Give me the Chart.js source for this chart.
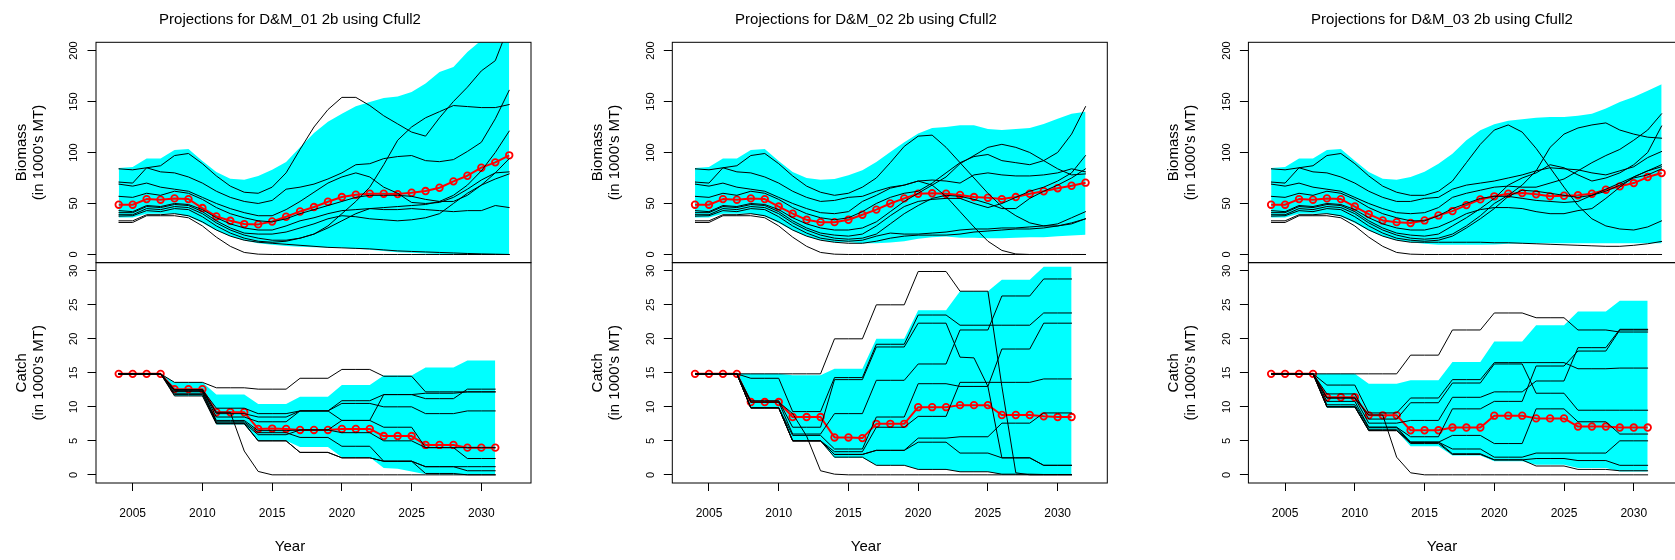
<!DOCTYPE html>
<html>
<head>
<meta charset="utf-8">
<script src="https://cdn.jsdelivr.net/npm/chart.js@4.4.1/dist/chart.umd.min.js"></script>
<style>
  html, body { margin: 0; padding: 0; background: #ffffff; width: 1675px; height: 560px; overflow: hidden; }
  .panel { position: absolute; top: 0; width: 580px; height: 560px; }
  .panel canvas { display: block; }
</style>
</head>
<body>
<div class="panel" style="left:0px"><canvas id="p1" width="580" height="560"></canvas></div>
<div class="panel" style="left:576px"><canvas id="p2" width="580" height="560"></canvas></div>
<div class="panel" style="left:1152px"><canvas id="p3" width="580" height="560"></canvas></div>
<script>
// ---------- axes ----------
const bioYears = [2004,2005,2006,2007,2008,2009,2010,2011,2012,2013,2014,2015,2016,2017,2018,2019,2020,2021,2022,2023,2024,2025,2026,2027,2028,2029,2030,2031,2032];
const catchYears = [2004,2005,2006,2007,2008,2009,2010,2011,2012,2013,2014,2015,2016,2017,2018,2019,2020,2021,2022,2023,2024,2025,2026,2027,2028,2029,2030,2031];
const yearTicks = [2005,2010,2015,2020,2025,2030];
const bioTicks = [0,50,100,150,200];
const catchTicks = [0,5,10,15,20,25,30];
const panelNames = ['D&M_01','D&M_02','D&M_03'];

// ---------- D&M_01 : biomass ----------
const bio1Med = [48.8,48.8,54.3,53.7,55.0,54.3,45.5,37.3,33.0,29.8,29.5,32.4,37.0,42.2,46.5,51.7,56.3,58.6,59.6,59.6,59.2,60.5,62.2,65.4,71.7,77.2,85.1,90.3,97.2];
const bio1Hi = [84.8,85.7,94.0,94.0,102.4,103.4,91.6,80.8,74.3,73.3,76.9,83.1,90.6,105.0,119.0,130.0,138.0,145.3,149.5,153.5,154.8,159.4,167.5,179.0,183.9,198.6,210.0,225.0,240.0];
const bio1Lo = [36.3,36.3,40.0,40.0,40.0,37.3,30.8,23.6,18.0,13.7,11.1,9.5,8.2,7.5,7.2,6.9,6.5,5.6,4.6,3.3,2.3,1.6,1.0,0.6,0.6,0.6,0.6,0.6,0.6];
const bio1Runs = [
  [84,83,85,81,80,76,70,62,56,52,50,53,64,66,69,74,80,88,89,94,96,97,92,91,93,101,110,133,161],
  [71,70,85,87,97,99,89,77,67,61,60,66,80,103,125,142,154,154,146,136,128,120,116,134,150,164,180,190,225],
  [69,67,70,66,64,62,56,50,45,41,38,38,44,52,61,70,76,80,76,66,60,51,50,51,56,64,73,80,81],
  [57,56,60,58,62,60,54,46,40,36,33,32,35,40,44,48,52,56,58,58,58,57,54,52,52,58,68,80,94],
  [43,42,48,47,50,49,44,36,30,26,24,24,28,33,36,40,43,44,45,44,44,45,44,43,42,43,43,48,46],
  [41,41,47,46,49,48,42,33,26,21,20,20,22,26,30,35,38,37,35,34,33,34,36,40,50,60,68,74,79],
  [39,39,45,44,47,46,40,31,24,19,16,14,14,16,20,26,33,40,45,46,47,48,49,52,58,68,82,100,121],
  [37.6,38,43,42,45,44,37,28,21,16,13,12,13,16,20,28,40,52,66,88,112,125,134,140,146,145,144,144,147],
  [33,33,39,39,40,38,32,24,18,14,12,11,10,9,8,7,6.5,6,5.5,4.5,3.5,3,2.5,2,1.5,1,0.6,0.3,0],
  [31.4,31.4,38,38,38,36,28,17,8,2,0.3,0,0,0,0,0,0,0,0,0,0,0,0,0,0,0,0,0,0]
];
// ---------- D&M_01 : catch ----------
const catch1Med = [14.85,14.85,14.85,14.85,12.6,12.6,12.6,9.2,9.2,9.2,6.75,6.8,6.75,6.6,6.6,6.6,6.75,6.75,6.75,5.7,5.7,5.7,4.4,4.4,4.4,4.0,4.0,4.0];
const catch1Hi = [14.85,14.85,14.85,14.85,13.6,13.6,13.6,11.8,11.8,11.8,10.4,10.4,10.4,11.5,11.5,11.5,13.2,13.2,13.2,14.6,14.6,14.6,15.8,15.8,15.8,16.8,16.8,16.8];
const catch1Lo = [14.85,14.85,14.85,14.85,11.6,11.6,11.6,7.4,7.4,7.4,5.0,5.0,5.0,4.1,4.1,4.1,2.6,2.6,2.6,1.0,0.9,0.5,0.1,0.05,0.05,0,0,0];
const catch1Runs = [
  [14.85,14.85,14.85,14.85,13.6,13.6,13.6,12.8,12.8,12.8,12.6,12.6,12.6,14.2,14.2,14.2,15.5,15.5,15.5,14.5,14.5,14.5,12.2,12.2,12.2,12.2,12.2,12.2],
  [14.85,14.85,14.85,14.85,12.5,12.5,12.5,9.2,9.2,3.5,0.5,0,0,0,0,0,0,0,0,0,0,0,0,0,0,0,0,0],
  [14.85,14.85,14.85,14.85,12.5,12.5,12.5,9.8,9.8,9.8,9.0,9.0,9.0,9.4,9.4,9.4,10.9,10.9,10.9,11.8,11.8,11.8,11.2,11.2,11.2,12.6,12.6,12.6],
  [14.85,14.85,14.85,14.85,12.5,12.5,12.5,9.0,9.0,9.0,8.5,8.5,8.5,9.4,9.4,9.4,10.5,10.5,10.5,10.0,10.0,10.0,9.0,9.0,9.0,9.4,9.4,9.4],
  [14.85,14.85,14.85,14.85,12.5,12.5,12.5,8.5,8.5,8.5,7.8,7.8,7.8,9.4,9.4,9.4,8.0,8.0,8.0,7.0,7.0,7.0,4.0,4.0,4.0,4.0,4.0,4.0],
  [14.85,14.85,14.85,14.85,12.3,12.3,12.3,8.0,8.0,8.0,6.5,6.5,6.5,6.6,6.6,6.6,6.2,6.2,6.2,5.0,5.0,5.0,4.0,4.0,4.0,2.4,2.4,2.4],
  [14.85,14.85,14.85,14.85,12.3,12.3,12.3,7.8,7.8,7.8,6.2,6.2,6.2,5.5,5.5,5.5,4.2,4.2,4.2,2.0,2.0,2.0,1.2,1.2,1.2,1.2,1.2,1.2],
  [14.85,14.85,14.85,14.85,12.0,12.0,12.0,7.6,7.6,7.6,5.9,5.9,5.9,6.6,6.6,6.6,8.0,8.0,8.0,11.8,11.8,11.8,12.0,12.0,12.0,12.2,12.2,12.2],
  [14.85,14.85,14.85,14.85,11.8,11.8,11.8,7.6,7.6,7.6,5.0,5.0,5.0,3.3,3.3,3.3,2.5,2.5,2.5,2.0,2.0,2.0,1.2,1.2,1.2,0.6,0.6,0.6],
  [14.85,14.85,14.85,14.85,11.6,11.6,11.6,7.5,7.5,7.5,5.0,5.0,5.0,3.3,3.3,3.3,2.5,2.5,2.5,2.0,2.0,2.0,0.2,0.2,0.2,0,0,0]
];

// ---------- D&M_02 : biomass ----------
const bio2Med = [48.8,48.8,54.3,53.7,55.0,54.3,47.0,40.0,34.0,31.7,31.7,34.0,39.0,44.0,50.0,55.0,59.6,60.0,59.6,58.4,56.3,55.6,54.3,56.3,59.6,62.0,65.0,67.4,70.4];
const bio2Hi = [84.8,85.7,94.0,94.0,102.4,103.4,91.6,80.8,75.0,73.3,74.0,77.6,82.5,90.6,100.5,110.0,118.5,124.0,125.0,126.6,126.6,123.0,122.0,123.0,124.0,128.0,133.0,138.0,140.0];
const bio2Lo = [36.3,36.3,40.0,40.0,40.0,37.3,30.8,23.6,18.0,14.0,12.0,12.0,11.0,11.0,11.8,13.0,15.4,17.0,17.7,16.4,16.4,16.0,16.0,16.4,17.0,17.0,18.0,18.7,19.3];
const bio2Runs = [
  [84,83,85,81,80,76,70,62,56,52,53,56,57,62,66,68,72,68,57,42,27,13,4,0.5,0,0,0,0,0],
  [71,70,85,87,97,99,89,77,67,61,58,60,66,75,90,106,116,117,105,90,75,60,47,38,31,28,28,30,35],
  [69,67,70,66,64,62,56,50,45,41,40,42,52,58,65,68,72,73,72,70,78,80,78,77,77,78,80,84,81],
  [57,56,60,58,62,60,54,46,40,36,34,36,42,50,56,60,62,70,80,90,96,98,92,90,88,92,100,118,145],
  [43,42,48,47,50,49,44,36,30,26,24,24,26,32,42,52,60,68,76,89,97,105,108,105,100,92,84,78,79],
  [41,41,47,46,49,48,42,33,26,21,19,18,20,28,38,47,52,54,55,55,50,46,50,56,62,66,72,80,97],
  [39,39,45,44,47,46,40,31,24,19,16,15,16,20,30,40,48,55,58,57,54,50,45,45,55,62,68,75,84],
  [37.6,38,43,42,45,44,37,28,21,16,14,13,14,18,21,20,20,21,22,24,25,25,26,26,27,28,30,36,42],
  [33,33,39,39,40,38,32,24,18,14,12,11,11,13,16,18,19,19,19,20,22,23,24,25,25,26,28,31,35],
  [31.4,31.4,38,38,38,36,28,17,8,2,0.3,0,0,0,0,0,0,0,0,0,0,0,0,0,0,0,0,0,0]
];
// ---------- D&M_02 : catch ----------
const catch2Med = [14.85,14.85,14.85,14.85,10.7,10.7,10.7,8.5,8.5,8.5,5.5,5.5,5.4,7.5,7.5,7.5,9.95,9.95,9.95,10.25,10.25,10.25,8.8,8.8,8.8,8.6,8.5,8.5];
const catch2Hi = [14.85,14.85,14.85,14.85,14.85,14.85,14.85,14.65,14.65,14.65,15.6,15.6,15.6,20.0,20.0,20.0,24.2,24.2,24.2,27.0,27.0,27.0,28.7,28.7,28.7,30.6,30.6,30.6];
const catch2Lo = [14.85,14.85,14.85,14.85,9.85,9.85,9.85,5.0,5.0,5.0,2.5,2.5,2.5,1.4,1.4,1.4,0.8,0.8,0.8,0.45,0.45,0.45,0.05,0.05,0.05,0.05,0.05,0.05];
const catch2Runs = [
  [14.85,14.85,14.85,14.85,14.85,14.85,14.85,14.85,14.85,14.85,20.0,20.0,20.0,25.0,25.0,25.0,29.9,29.9,29.9,27.0,27.0,27.0,13.0,0.3,0,0,0,0],
  [14.85,14.85,14.85,14.85,10.7,10.7,10.7,9.0,5.7,0.6,0.1,0,0,0,0,0,0,0,0,0,0,0,0,0,0,0,0,0],
  [14.85,14.85,14.85,14.85,14.2,14.2,14.2,9.3,9.3,9.3,14.3,14.3,14.3,19.2,19.2,19.2,23.5,23.5,23.5,22.0,22.0,22.0,22.0,22.0,22.0,23.8,23.8,23.8],
  [14.85,14.85,14.85,14.85,10.9,10.9,10.9,7.0,7.0,7.0,14.0,14.0,14.0,18.8,18.8,18.8,22.3,22.3,22.3,17.3,17.2,13.0,2.5,2.5,2.5,1.4,1.4,1.4],
  [14.85,14.85,14.85,14.85,10.7,10.7,10.7,6.0,6.0,6.0,9.0,9.0,9.0,13.9,13.9,13.9,16.3,16.3,16.3,21.3,21.3,21.3,26.3,26.3,26.3,28.8,28.8,28.8],
  [14.85,14.85,14.85,14.85,9.85,9.85,9.85,5.8,5.8,5.8,3.8,3.8,3.8,8.5,8.5,8.5,13.4,13.4,13.4,13.0,13.0,13.0,18.5,18.5,18.5,22.3,22.3,22.3],
  [14.85,14.85,14.85,14.85,9.85,9.85,9.85,5.0,5.0,5.0,3.4,3.4,3.4,7.0,7.0,7.0,8.6,8.6,8.6,13.6,13.6,13.6,13.6,13.6,13.6,14.1,14.1,14.1],
  [14.85,14.85,14.85,14.85,9.85,9.85,9.85,5.0,5.0,5.0,3.0,3.0,3.0,3.6,3.6,3.6,5.4,5.4,5.4,5.6,5.6,5.6,7.6,7.6,7.6,9.1,9.1,9.1],
  [14.85,14.85,14.85,14.85,9.85,9.85,9.85,5.0,5.0,5.0,2.6,2.6,2.6,1.4,1.4,1.4,0.8,0.8,0.8,0.45,0.45,0.45,0.1,0.1,0.1,0.05,0.05,0.05],
  [14.85,14.85,14.85,14.85,9.85,9.85,9.85,5.0,5.0,5.0,3.0,3.0,3.0,3.6,3.6,3.6,4.8,4.8,4.8,3.2,3.2,3.2,2.5,2.5,2.5,1.4,1.4,1.4]
];

// ---------- D&M_03 : biomass ----------
const bio3Med = [48.8,48.8,54.3,53.7,55.0,54.3,47.0,39.6,33.4,31.7,30.8,33.4,38.3,42.5,48.4,54.0,57.0,59.6,60.2,59.0,57.0,57.6,58.0,59.6,63.5,66.8,70.0,75.9,79.8];
const bio3Hi = [84.8,85.7,94.0,94.0,102.4,103.4,92.0,80.8,74.3,73.3,76.0,81.0,89.0,98.8,112.0,121.7,127.6,131.0,132.5,134.0,134.8,134.8,136.0,138.0,143.0,149.5,154.5,160.5,167.0];
const bio3Lo = [36.3,36.3,40.0,40.0,40.0,37.3,30.8,23.6,18.0,14.0,12.0,10.5,9.5,9.5,9.5,9.5,9.8,10.5,11.0,11.0,11.0,11.0,11.0,11.0,11.0,11.0,11.0,11.0,11.0];
const bio3Runs = [
  [84,83,85,81,80,76,70,62,56,52,52,55,56,64,68,70,72,75,78,82,85,84,83,80,78,82,86,95,101],
  [71,70,85,87,97,99,89,77,67,61,58,58,62,72,90,108,122,127,120,104,85,66,48,35,28,25,24,27,33],
  [69,67,70,66,64,62,56,50,45,41,40,41,46,56,60,63,66,67,66,66,70,74,82,90,97,103,112,122,138],
  [57,56,60,58,62,60,54,46,40,36,33,33,38,45,50,55,57,57,55,53,52,51,52,58,64,70,76,82,88],
  [43,42,48,47,50,49,44,36,30,26,24,24,27,33,40,44,46,46,45,42,40,40,43,45,55,66,76,82,86],
  [41,41,47,46,49,48,42,33,26,21,19,18,20,28,36,45,55,68,75,80,88,85,78,72,75,80,88,100,126],
  [39,39,45,44,47,46,40,31,24,19,16,15,16,20,28,38,50,58,68,82,105,118,124,127,129,122,118,115,114],
  [37.6,38,43,42,45,44,37,28,21,16,14,13,14,18,26,35,45,57,63,62,60,58,56,58,62,68,75,78,84],
  [33,33,39,39,40,38,32,24,18,14,12,12,12,12,12,12,11.5,11.5,11,10.5,10,9.5,9,8.5,8,8,9,10.5,12.8],
  [31.4,31.4,38,38,38,36,28,17,8,2,0.3,0,0,0,0,0,0,0,0,0,0,0,0,0,0,0,0,0,0]
];
// ---------- D&M_03 : catch ----------
const catch3Med = [14.85,14.85,14.85,14.85,11.4,11.4,11.4,8.75,8.75,8.75,6.55,6.55,6.55,6.95,6.95,6.95,8.7,8.7,8.7,8.3,8.3,8.3,7.1,7.1,7.1,6.95,6.95,6.95];
const catch3Hi = [14.85,14.85,14.85,14.85,14.85,14.85,14.85,13.4,13.4,13.4,13.9,13.9,13.9,16.6,16.6,16.6,19.6,19.6,19.6,22.0,22.0,22.0,24.0,24.0,24.0,25.6,25.6,25.6];
const catch3Lo = [14.85,14.85,14.85,14.85,9.85,9.85,9.85,6.5,6.5,6.5,4.2,4.2,4.2,2.85,2.85,2.85,2.0,2.0,2.0,1.5,1.5,1.5,1.0,1.0,1.0,0.5,0.5,0.5];
const catch3Runs = [
  [14.85,14.85,14.85,14.85,14.85,14.85,14.85,14.85,14.85,14.85,17.6,17.6,17.6,21.3,21.3,21.3,23.8,23.8,23.8,23.1,23.1,23.1,21.3,21.3,21.3,21.0,21.0,21.0],
  [14.85,14.85,14.85,14.85,11.3,11.3,11.3,8.8,8.8,2.6,0.3,0,0,0,0,0,0,0,0,0,0,0,0,0,0,0,0,0],
  [14.85,14.85,14.85,14.85,13.2,13.2,13.2,9.1,9.1,9.1,11.3,11.3,11.3,14.0,14.0,14.0,16.5,16.5,16.5,16.5,16.5,16.5,15.6,15.6,15.6,15.7,15.7,15.7],
  [14.85,14.85,14.85,14.85,11.9,11.9,11.9,8.2,8.2,8.2,10.6,10.6,10.6,13.5,13.5,13.5,16.3,16.3,16.3,12.0,12.0,12.0,9.5,9.5,9.5,9.5,9.5,9.5],
  [14.85,14.85,14.85,14.85,11.3,11.3,11.3,7.6,7.6,7.6,8.0,8.0,8.0,11.4,11.4,11.4,12.2,12.2,12.2,13.8,13.8,13.8,18.7,18.7,18.7,21.4,21.4,21.4],
  [14.85,14.85,14.85,14.85,10.8,10.8,10.8,7.0,7.0,7.0,5.6,5.6,5.6,9.7,9.7,9.7,10.8,10.8,10.8,16.0,16.0,16.0,18.2,18.2,18.2,21.3,21.3,21.3],
  [14.85,14.85,14.85,14.85,10.3,10.3,10.3,7.0,7.0,7.0,4.8,4.8,4.8,5.8,5.8,5.8,4.6,4.6,4.6,9.7,9.7,9.7,7.8,7.8,7.8,6.0,6.0,6.0],
  [14.85,14.85,14.85,14.85,10.0,10.0,10.0,6.7,6.7,6.7,4.8,4.8,4.8,3.8,3.8,3.8,2.6,2.6,2.6,3.2,3.2,3.2,3.2,3.2,3.2,5.0,5.0,5.0],
  [14.85,14.85,14.85,14.85,10.0,10.0,10.0,6.5,6.5,6.5,4.8,4.8,4.8,3.1,3.1,3.1,2.2,2.2,2.2,2.4,2.4,2.4,2.1,2.1,2.1,1.4,1.4,1.4],
  [14.85,14.85,14.85,14.85,10.0,10.0,10.0,6.5,6.5,6.5,4.6,4.6,4.6,3.0,3.0,3.0,2.2,2.2,2.2,1.3,1.3,1.3,0.8,0.8,0.8,0.6,0.6,0.6]
];

// ---------- drawing ----------
const FONT = "'Liberation Sans', Arial, Helvetica, sans-serif";
Chart.defaults.font.family = FONT;
Chart.defaults.color = '#000';

const CYAN = '#00FFFF';
const RED = '#FF0000';
const INK = '#000000';
const NONE = 'rgba(0,0,0,0)';

function series(xs, ys) {
  return xs.map((x, i) => ({ x: x, y: ys[i] }));
}

// Box around each of the two stacked plot regions, and the upright y tick labels
const framePlugin = {
  id: 'frames',
  afterDraw(chart) {
    const ctx = chart.ctx;
    const ca = chart.chartArea;
    ctx.save();
    ctx.strokeStyle = INK;
    ctx.lineWidth = 1;
    ['yB', 'yC'].forEach(id => {
      const s = chart.scales[id];
      ctx.strokeRect(ca.left, s.top, ca.right - ca.left, s.bottom - s.top);
    });
    ctx.fillStyle = INK;
    ctx.font = '11px ' + FONT;
    ctx.textAlign = 'center';
    ctx.textBaseline = 'middle';
    ['yB', 'yC'].forEach(id => {
      const s = chart.scales[id];
      s.ticks.forEach(t => {
        ctx.save();
        ctx.translate(ca.left - 21.7, s.getPixelForValue(t.value));
        ctx.rotate(-Math.PI / 2);
        ctx.fillText(String(t.value), 0, 0);
        ctx.restore();
      });
    });
    ctx.restore();
  }
};

function yAxis(weight, min, max, ticks, titleLines, axisW) {
  return {
    type: 'linear', position: 'left', stack: 'rows', stackWeight: 1, weight: weight,
    min: min, max: max, bounds: 'data',
    afterBuildTicks: s => { s.ticks = ticks.map(v => ({ value: v })); },
    afterFit: s => { s.width = axisW; },
    ticks: { display: false },
    grid: { display: true, drawOnChartArea: false, drawTicks: true, tickLength: 8.5, color: INK, lineWidth: 1 },
    border: { display: false },
    title: { display: true, text: titleLines, color: INK, font: { size: 15, lineHeight: 17 / 15 }, padding: { top: 13.5, bottom: 0 } }
  };
}

function buildPanel(canvasId, name, axisW, bioMed, bioHi, bioLo, bioRuns, catMed, catHi, catLo, catRuns) {
  const datasets = [];
  const run = (data, axis) => ({
    data: data, yAxisID: axis, order: 0, borderColor: INK, borderWidth: 1,
    pointRadius: 0, fill: false, tension: 0, borderJoinStyle: 'round', borderCapStyle: 'round'
  });
  bioRuns.forEach(r => datasets.push(run(series(bioYears, r), 'yB')));
  catRuns.forEach(r => datasets.push(run(series(catchYears, r), 'yC')));

  const median = (data, axis) => ({
    data: data, yAxisID: axis, order: 1, borderColor: RED, borderWidth: 2,
    pointRadius: 3.3, pointBorderWidth: 1.8, pointBorderColor: RED, pointBackgroundColor: NONE,
    fill: false, tension: 0, borderJoinStyle: 'round'
  });
  datasets.push(median(series(bioYears, bioMed), 'yB'));
  datasets.push(median(series(catchYears, catMed), 'yC'));

  const band = (xs, hi, lo, axis) => {
    datasets.push({ data: series(xs, hi), yAxisID: axis, order: 2, borderColor: NONE, borderWidth: 0,
      pointRadius: 0, fill: '+1', backgroundColor: CYAN, tension: 0 });
    datasets.push({ data: series(xs, lo), yAxisID: axis, order: 2, borderColor: NONE, borderWidth: 0,
      pointRadius: 0, fill: false, tension: 0 });
  };
  band(bioYears, bioHi, bioLo, 'yB');
  band(catchYears, catHi, catLo, 'yC');

  const padW = 580 - axisW - 435;
  return new Chart(document.getElementById(canvasId), {
    type: 'line',
    data: { datasets: datasets },
    plugins: [framePlugin],
    options: {
      responsive: false, maintainAspectRatio: false, devicePixelRatio: 1,
      animation: false, events: [],
      layout: { padding: 0 },
      plugins: {
        legend: { display: false },
        tooltip: { enabled: false },
        title: { display: true, text: 'Projections for ' + name + ' 2b using Cfull2', color: INK,
          font: { size: 15, weight: 'normal' }, padding: { top: 10.5, bottom: 13.8 } },
        subtitle: { display: true, position: 'bottom', text: 'Year', color: INK,
          font: { size: 15, weight: 'normal' }, padding: { top: 0, bottom: 4.3 } }
      },
      scales: {
        x: {
          type: 'linear', position: 'bottom', min: 2002.37, max: 2033.56, bounds: 'data',
          afterBuildTicks: s => { s.ticks = yearTicks.map(v => ({ value: v })); },
          afterFit: s => { s.height = 54.7; },
          ticks: { padding: 15, color: INK, font: { size: 12 }, maxRotation: 0, autoSkip: false, callback: v => String(v) },
          grid: { display: true, drawOnChartArea: false, drawTicks: true, tickLength: 8, color: INK, lineWidth: 1 },
          border: { display: false }
        },
        yB: yAxis(1, -8, 208, bioTicks, ['Biomass', "(in 1000's MT)"], axisW),
        yC: yAxis(0, -1.2, 31.2, catchTicks, ['Catch', "(in 1000's MT)"], axisW),
        pad: {
          type: 'linear', position: 'right', display: true,
          ticks: { display: false }, grid: { display: false }, border: { display: false },
          afterFit: s => { s.width = padW; }
        }
      }
    }
  });
}

buildPanel('p1', panelNames[0], 96.0, bio1Med, bio1Hi, bio1Lo, bio1Runs, catch1Med, catch1Hi, catch1Lo, catch1Runs);
buildPanel('p2', panelNames[1], 96.3, bio2Med, bio2Hi, bio2Lo, bio2Runs, catch2Med, catch2Hi, catch2Lo, catch2Runs);
buildPanel('p3', panelNames[2], 96.4, bio3Med, bio3Hi, bio3Lo, bio3Runs, catch3Med, catch3Hi, catch3Lo, catch3Runs);
</script>
</body>
</html>
